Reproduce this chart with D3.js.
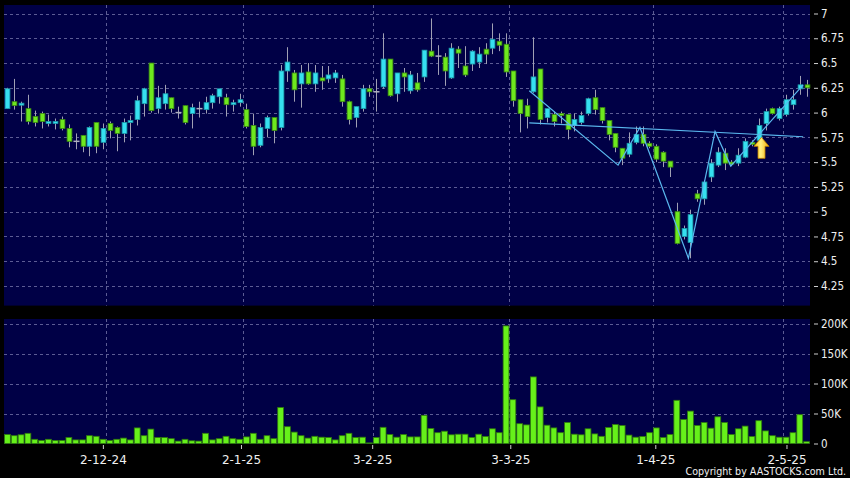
<!DOCTYPE html>
<html><head><meta charset="utf-8">
<script src="https://cdn.jsdelivr.net/npm/d3@7"></script>
<style>html,body{margin:0;padding:0;background:#000;}svg{display:block;}</style>
</head><body>
<svg id="chart" width="850" height="478"></svg>
<script>
// ---------- data ----------
const opens  = [6.04,6.11,6.075,6.04,5.96,5.99,5.89,5.89,5.93,5.84,5.71,5.77,5.66,5.90,5.70,5.89,5.85,5.79,5.90,5.93,
6.09,6.50,6.04,6.09,6.15,6.00,6.07,5.99,6.04,6.03,6.10,6.16,6.15,6.08,6.10,6.03,5.87,5.67,5.84,5.95,
5.85,6.42,6.40,6.29,6.41,6.29,6.35,6.34,6.35,6.34,6.11,5.95,6.04,6.24,6.21,6.26,6.54,6.19,6.40,6.22,
6.30,6.36,6.62,6.57,6.56,6.35,6.64,6.47,6.49,6.51,6.64,6.65,6.72,6.69,6.42,6.13,6.07,6.21,6.44,5.95,
5.98,5.99,5.98,5.87,5.90,5.99,6.15,6.05,5.92,5.79,5.64,5.58,5.70,5.78,5.69,5.66,5.60,5.51,5.00,4.75,
4.69,5.18,5.13,5.35,5.47,5.59,5.50,5.49,5.55,5.70,5.72,5.89,6.04,5.94,5.98,6.08,6.24,6.28];
const highs  = [6.25,6.34,6.11,6.18,6.02,6.01,5.98,5.94,5.96,5.88,5.79,5.77,5.86,5.90,5.89,5.91,5.86,5.94,5.97,6.17,
6.25,6.50,6.27,6.28,6.15,6.06,6.07,6.09,6.11,6.16,6.19,6.24,6.19,6.13,6.19,6.09,5.99,5.89,5.97,5.95,
6.48,6.66,6.43,6.48,6.50,6.48,6.47,6.47,6.43,6.38,6.12,6.06,6.28,6.28,6.34,6.80,6.54,6.40,6.45,6.42,
6.40,6.63,6.95,6.68,6.60,6.70,6.67,6.67,6.63,6.66,6.70,6.90,6.80,6.80,6.42,6.13,6.14,6.76,6.44,6.04,
6.01,6.01,5.98,5.99,6.01,6.15,6.23,6.05,5.92,5.79,5.64,5.80,5.86,5.86,5.71,5.68,5.61,5.51,5.09,4.86,
5.02,5.22,5.32,5.53,5.65,5.64,5.52,5.64,5.74,5.72,5.94,6.04,6.05,6.06,6.18,6.23,6.37,6.33];
const lows   = [6.04,6.03,5.91,5.88,5.86,5.84,5.86,5.83,5.82,5.65,5.63,5.60,5.56,5.59,5.63,5.74,5.61,5.70,5.72,5.87,
5.96,6.00,5.99,6.03,6.00,5.94,5.88,5.84,5.95,5.99,6.04,6.09,5.96,6.01,6.06,5.84,5.57,5.65,5.75,5.69,
5.82,6.31,6.11,6.05,6.28,6.21,6.23,6.30,6.30,6.06,5.88,5.85,6.01,6.16,6.01,6.24,6.16,6.11,6.21,6.19,
6.21,6.31,6.56,6.38,6.27,6.34,6.45,6.36,6.42,6.45,6.49,6.59,6.62,6.36,6.06,5.80,5.84,6.20,5.88,5.90,
5.86,5.89,5.73,5.81,5.88,5.97,5.98,5.89,5.72,5.60,5.47,5.55,5.68,5.66,5.64,5.50,5.45,5.35,4.67,4.72,
4.53,5.10,5.07,5.30,5.45,5.42,5.46,5.46,5.54,5.66,5.70,5.82,5.98,5.92,5.96,6.03,6.18,6.16];
const closes = [6.24,6.07,6.095,5.91,5.90,5.91,5.91,5.91,5.84,5.71,5.71,5.66,5.85,5.66,5.84,5.82,5.79,5.90,5.92,6.12,
6.24,6.02,6.15,6.19,6.04,6.00,5.90,6.05,6.04,6.10,6.17,6.24,6.08,6.10,6.13,5.86,5.66,5.85,5.95,5.82,
6.42,6.51,6.23,6.40,6.29,6.40,6.32,6.38,6.40,6.11,5.93,6.06,6.24,6.21,6.21,6.54,6.17,6.40,6.36,6.38,
6.23,6.63,6.57,6.57,6.42,6.65,6.60,6.38,6.62,6.59,6.59,6.74,6.68,6.41,6.12,5.99,5.96,6.36,5.93,6.04,
5.91,5.97,5.83,5.93,5.97,6.14,6.03,5.92,5.78,5.65,5.54,5.69,5.78,5.69,5.66,5.53,5.51,5.45,4.68,4.83,
4.97,5.13,5.30,5.49,5.60,5.49,5.48,5.57,5.71,5.68,5.87,6.01,5.99,6.04,6.13,6.13,6.28,6.25];
// volume in thousands
const volumes = [15,13,14.5,17,7,5,7,5,5,10,6,6,13,12,7,5,7,9,6,26,13,24,10,10,8,4,7,4.5,4,17,6,
8,12,8,7,11,17,7,13,8,60,28,19,13,9,12,10.5,10,6,13,17,10,10.5,1,10,27,15,10.5,15,11,11,47,
25,18,20.5,14.5,15.5,15.5,10,15.5,11.7,24.5,18,196,73,33,31,111,61,30.5,26,18,35,15.5,14.5,24.5,16,12,26.7,31.7,30,14,10.5,
11.7,18,26,10,15,72,40,54,30,35,25.5,44.5,35,15,24.5,29,11.7,38,21,13,10.5,10.5,18,48,3];
const dateTickIndex = [15,35,54,74,95,114];
const dateTickLabels = ["2-12-24","2-1-25","3-2-25","3-3-25","1-4-25","2-5-25"];
const priceTicks = [4.25,4.5,4.75,5,5.25,5.5,5.75,6,6.25,6.5,6.75,7];
const priceTickLabels = ["4.25","4.5","4.75","5","5.25","5.5","5.75","6","6.25","6.5","6.75","7"];
const volTicks = [0,50,100,150,200];
const volTickLabels = ["0","50K","100K","150K","200K"];
// drawn trend lines: [candle index, price]
const necklinePts = [[76.4,5.897],[116.5,5.756]];
const zigzagPts = [[76.4,6.22],[89.4,5.47],[92.6,5.85],[99.7,4.53],[103.6,5.81],[105.9,5.46],[116.5,6.28]];
const signalArrow = {index:110.4, price:5.75};

// ---------- layout ----------
const N = closes.length;
const svg = d3.select("#chart");
const P = {l:4, r:810, t:5, b:305.6};
const V = {t:319, b:444};
const navy = "#000046";
const gridColor = "#5c5c94";
const textColor = "#f0f0f0";
const cyan = "#36e0f0", cyanStroke = "#1a9aa8";
const green = "#6ee81e", greenStroke = "#3a8a10";

svg.append("rect").attr("width",850).attr("height",478).attr("fill","#000");
svg.append("rect").attr("x",P.l).attr("y",P.t).attr("width",P.r-P.l).attr("height",P.b-P.t).attr("fill",navy);
svg.append("rect").attr("x",P.l).attr("y",V.t).attr("width",P.r-P.l).attr("height",V.b-V.t).attr("fill",navy);

const x = d3.scaleBand().domain(d3.range(N)).range([P.l,P.r]).paddingInner(0).paddingOuter(0);
const step = x.step();
const xc = i => P.l + step*(i+0.5);          // centre of a (fractional) candle index
const xEdge = k => P.l + step*k;             // band boundary
const labelX = d3.scaleLinear().domain([0,N]).range([-0.7, 814.1]);
const y = d3.scaleLinear().domain([4.25,7]).range([286,13.5]);
const yv = d3.scaleLinear().domain([0,200]).range([443.5,323.5]);

// grid
const g = svg.append("g").attr("stroke",gridColor).attr("stroke-width",1).attr("stroke-dasharray","3,3").attr("fill","none");
priceTicks.forEach(t=>{
  g.append("line").attr("x1",P.l).attr("x2",P.r).attr("y1",Math.round(y(t))+0.5).attr("y2",Math.round(y(t))+0.5);
});
volTicks.filter(t=>t>0).forEach(t=>{
  g.append("line").attr("x1",P.l).attr("x2",P.r).attr("y1",Math.round(yv(t))+0.5).attr("y2",Math.round(yv(t))+0.5);
});
dateTickIndex.forEach(k=>{
  const xx = Math.round(xEdge(k))+0.5;
  g.append("line").attr("x1",xx).attr("x2",xx).attr("y1",P.t).attr("y2",P.b);
  g.append("line").attr("x1",xx).attr("x2",xx).attr("y1",V.t).attr("y2",V.b);
});

// axes (right)
const yAxis = d3.axisRight(y).tickValues(priceTicks).tickFormat((d,i)=>priceTickLabels[i]).tickSize(4).tickPadding(3);
const ya = svg.append("g").attr("transform",`translate(${P.r+4},0)`).call(yAxis);
const vAxis = d3.axisRight(yv).tickValues(volTicks).tickFormat((d,i)=>volTickLabels[i]).tickSize(4).tickPadding(3);
const va = svg.append("g").attr("transform",`translate(${P.r+4},0)`).call(vAxis);
const xAxis = d3.axisBottom(labelX).tickValues(dateTickIndex).tickFormat((d,i)=>dateTickLabels[i]).tickSize(4).tickPadding(6);
const xa = svg.append("g").attr("transform",`translate(0,${V.b+1})`).call(xAxis);
[ya,va,xa].forEach(a=>{
  a.select(".domain").remove();
  a.selectAll(".tick line").attr("stroke","#cfcfcf").attr("stroke-width",1);
  a.selectAll(".tick text").attr("fill",textColor);
});
[ya,va].forEach(a=>a.selectAll(".tick text").attr("font-family","DejaVu Sans Condensed, DejaVu Sans, sans-serif").attr("font-size","11.5px"));
xa.selectAll(".tick text").attr("font-family","DejaVu Sans, Verdana, sans-serif").attr("font-size","12px");

// volume bars
svg.append("g").selectAll("rect").data(volumes).join("rect")
  .attr("x",(d,i)=>x(i)+0.5).attr("width",step-1)
  .attr("y",d=>yv(d)).attr("height",d=>Math.max(0,yv(0)-yv(d)))
  .attr("fill","#66f01a").attr("stroke","#2f7a0c").attr("stroke-width",0.8);

// candles
const bw = 4.8;
const cg = svg.append("g");
d3.range(N).forEach(i=>{
  const o=opens[i],h=highs[i],l=lows[i],c=closes[i];
  const cx = Math.round(xc(i))+0.5;
  cg.append("line").attr("x1",cx).attr("x2",cx).attr("y1",y(h)).attr("y2",y(l)).attr("stroke","#a0a0b4").attr("stroke-width",1);
  if (o===c){
    cg.append("line").attr("x1",cx-3).attr("x2",cx+3).attr("y1",y(o)).attr("y2",y(o)).attr("stroke","#b0b0c0").attr("stroke-width",1.5);
  } else {
    const up = c>o;
    const top = y(Math.max(o,c)), bot = y(Math.min(o,c));
    cg.append("rect").attr("x",cx-bw/2).attr("width",bw).attr("y",top).attr("height",Math.max(1.5,bot-top))
      .attr("fill",up?cyan:green).attr("stroke",up?cyanStroke:greenStroke).attr("stroke-width",0.8);
  }
});

// trend lines
const line = d3.line().x(d=>xc(d[0])).y(d=>y(d[1]));
svg.append("path").attr("d",line(necklinePts)).attr("fill","none").attr("stroke","#5ab8ee").attr("stroke-width",1.2);
svg.append("path").attr("d",line(zigzagPts)).attr("fill","none").attr("stroke","#5ab8ee").attr("stroke-width",1.2);

// arrow
const defs = svg.append("defs");
const gr = defs.append("linearGradient").attr("id","arrowGrad").attr("x1",0).attr("x2",1).attr("y1",0).attr("y2",0);
gr.append("stop").attr("offset","0%").attr("stop-color","#ffc000");
gr.append("stop").attr("offset","45%").attr("stop-color","#fff080");
gr.append("stop").attr("offset","100%").attr("stop-color","#f0a800");
const ax = xc(signalArrow.index), ay = y(signalArrow.price);
const arrowPath = `M${ax},${ay} L${ax+7.5},${ay+9} L${ax+3.5},${ay+9} L${ax+3.5},${ay+21} L${ax-3.5},${ay+21} L${ax-3.5},${ay+9} L${ax-7.5},${ay+9} Z`;
svg.append("path").attr("d",arrowPath).attr("fill","url(#arrowGrad)").attr("stroke","#c08000").attr("stroke-width",0.8);

// copyright
svg.append("text").attr("x",846).attr("y",475).attr("text-anchor","end")
  .attr("fill",textColor).attr("font-family","DejaVu Sans Condensed, DejaVu Sans, sans-serif").attr("font-size","10.6px")
  .text("Copyright by AASTOCKS.com Ltd.");
</script>
</body></html>
